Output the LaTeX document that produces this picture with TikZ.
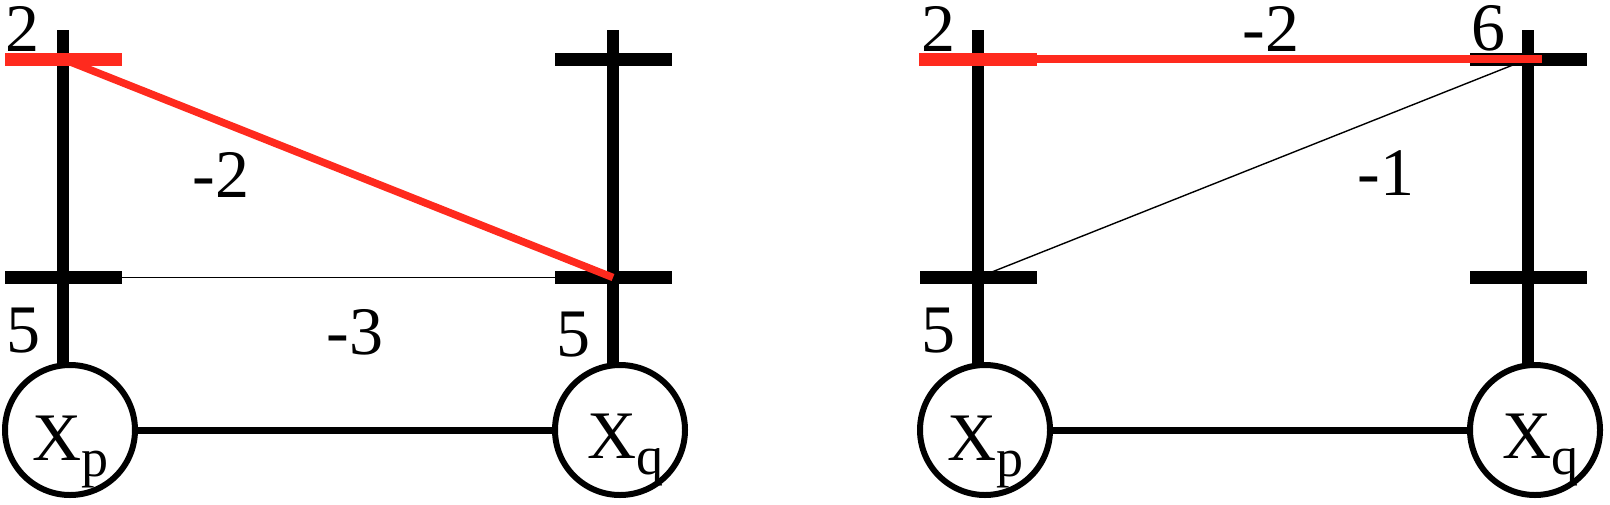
\documentclass[tikz,border=0pt]{standalone}
\usepackage{fontspec}
\setmainfont{Liberation Serif}
\definecolor{hred}{RGB}{255,42,30}
\tikzset{
  bar/.style={line width=6pt},
  tickmark/.style={line width=6.5pt},
  redtick/.style={line width=6.5pt, draw=hred},
  redline/.style={line width=3.75pt, draw=hred},
  thinline/.style={line width=0.7pt},
  var/.style={circle, draw, line width=3pt, minimum size=65pt, inner sep=0pt},
  num/.style={font=\fontsize{34}{38}\selectfont, inner sep=0pt},
  xlab/.style={anchor=base west, inner sep=0pt, font=\fontsize{34}{40}\selectfont},
  conn/.style={line width=3.5pt},
}
\newcommand{\subsc}[1]{\raisebox{-8pt}{\fontsize{27}{30}\selectfont #1}}
\begin{document}
\begin{tikzpicture}[x=0.5pt,y=-0.5pt]
\useasboundingbox (0,0) rectangle (1610,504);
% ---------------- left panel ----------------
\coordinate (a1t) at (63,30);  \coordinate (a1b) at (63,365);
\coordinate (b1t) at (613,30); \coordinate (b1b) at (613,365);
\coordinate (a1u) at (63,59);  \coordinate (a1l) at (63,277.5);
\coordinate (b1u) at (613,59); \coordinate (b1l) at (613,277.5);
\node[var] (Xp1) at (70,430) {};
\node[var] (Xq1) at (620,430) {};
\draw[conn] (Xp1) -- (Xq1);
\draw[thinline] (a1l) -- (b1l);
\draw[bar] (a1t) -- (a1b);
\draw[bar] (b1t) -- (b1b);
\draw[tickmark] ([xshift=-29pt]a1l) -- ([xshift=29.5pt]a1l);
\draw[tickmark] ([xshift=-29pt]b1u) -- ([xshift=29.5pt]b1u);
\draw[tickmark] ([xshift=-29pt]b1l) -- ([xshift=29.5pt]b1l);
\draw[redtick] ([xshift=-29pt]a1u) -- ([xshift=29.5pt]a1u);
\draw[redline] (a1u) -- (b1l);
\node[num] (l1a) at (22,29) {2};
\node[num] (l1b) at (23,331) {5};
\node[num] (l1c) at (221,175) {-2};
\node[num] (l1d) at (355,332) {-3};
\node[num] (l1e) at (573,335) {5};
\node[xlab] (tXp1) at (32,460) {X\subsc{p}};
\node[xlab] (tXq1) at (587,458) {X\subsc{q}};
% ---------------- right panel ----------------
\coordinate (a2t) at (978,30);  \coordinate (a2b) at (978,365);
\coordinate (b2t) at (1528,30); \coordinate (b2b) at (1528,365);
\coordinate (a2u) at (978,59);  \coordinate (a2l) at (978,277.5);
\coordinate (b2u) at (1528,59); \coordinate (b2l) at (1528,277.5);
\coordinate (r2e) at (1542,59);
\node[var] (Xp2) at (985,430) {};
\node[var] (Xq2) at (1535,430) {};
\draw[conn] (Xp2) -- (Xq2);
\draw[thinline] (a2l) -- (b2u);
\draw[bar] (a2t) -- (a2b);
\draw[bar] (b2t) -- (b2b);
\draw[tickmark] ([xshift=-29pt]a2l) -- ([xshift=29.5pt]a2l);
\draw[tickmark] ([xshift=-29pt]b2u) -- ([xshift=29.5pt]b2u);
\draw[tickmark] ([xshift=-29pt]b2l) -- ([xshift=29.5pt]b2l);
\draw[redtick] ([xshift=-29.5pt]a2u) -- ([xshift=29.5pt]a2u);
\draw[redline] ([xshift=29.5pt]a2u) -- (r2e);
\node[num] (l2a) at (938,29) {2};
\node[num] (l2b) at (1271,29) {-2};
\node[num] (l2c) at (1488,28) {6};
\node[num] (l2d) at (1386,173) {-1};
\node[num] (l2e) at (938,331) {5};
\node[xlab] (tXp2) at (947,460) {X\subsc{p}};
\node[xlab] (tXq2) at (1502,458) {X\subsc{q}};
\end{tikzpicture}
\end{document}
